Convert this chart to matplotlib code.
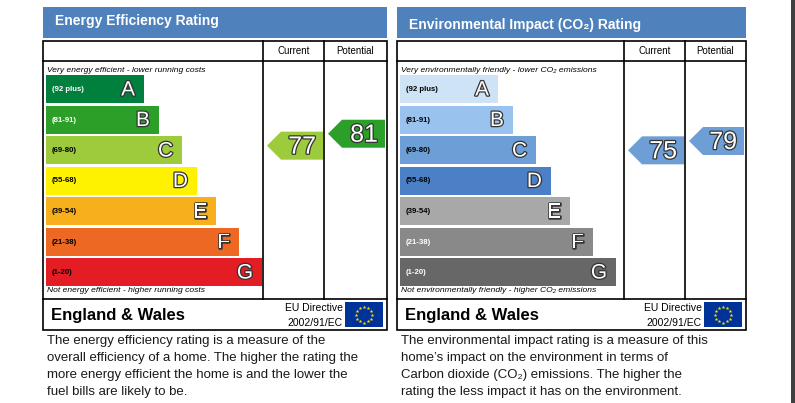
import numpy as np
import matplotlib.pyplot as plt
import matplotlib.patheffects as pe
from matplotlib.patches import Rectangle, Polygon

plt.rcParams['font.family'] = ['Liberation Sans', 'DejaVu Sans']

# band data
bands = ['A', 'B', 'C', 'D', 'E', 'F', 'G']
band_ranges = ['(92 plus)', '(81-91)', '(69-80)', '(55-68)', '(39-54)', '(21-38)', '(1-20)']
band_min = [92, 81, 69, 55, 39, 21, 1]
band_max = [100, 91, 80, 68, 54, 38, 20]

ee_colors = ['#007f3d', '#2c9f29', '#9dcb3c', '#fff200', '#f7af1d', '#ed6823', '#e31d23']
ee_label_colors = ['white', 'white', 'black', 'black', 'black', 'black', 'black']
ei_colors = ['#cfe3f6', '#99c3ee', '#6d9fd6', '#4c80c6', '#a8a8a8', '#898989', '#676767']
ei_label_colors = ['black', 'black', 'black', 'black', 'black', 'white', 'white']

ee_current, ee_potential = 77, 81
ei_current, ei_potential = 75, 79

# layout (pixels)
bar_widths = [98, 113, 136, 151, 170, 193, 216]
bar_top0, bar_step, bar_h = 75, 30.5, 28
header_blue = '#4f81bd'

fig = plt.figure(figsize=(7.95, 4.03), dpi=100)
ax = fig.add_axes([0, 0, 1, 1])
ax.set_xlim(0, 795)
ax.set_ylim(403, 0)
ax.axis('off')


def band_index(v):
    for i in range(len(bands)):
        if band_min[i] <= v <= band_max[i]:
            return i
    return len(bands) - 1


def arrow_y(v):
    i = band_index(v)
    top = bar_top0 + bar_step * i
    span = band_max[i] - band_min[i] + 1
    return top + bar_h * (band_max[i] + 0.5 - v) / span + 1.5


def draw_arrow(x0, x1, v, colors):
    cy = arrow_y(v)
    c = colors[band_index(v)]
    pts = [(x0, cy), (x0 + 14, cy - bar_h / 2), (x1, cy - bar_h / 2),
           (x1, cy + bar_h / 2), (x0 + 14, cy + bar_h / 2)]
    ax.add_patch(Polygon(pts, closed=True, facecolor=c, edgecolor='none'))
    ax.text(x1 - 7, cy + 1, str(v), ha='right', va='center', fontsize=18,
            color='white', path_effects=[pe.withStroke(linewidth=1.8, foreground='#333333')])


def eu_flag(x0, y0):
    ax.add_patch(Rectangle((x0, y0), 38, 25, facecolor='#003399', edgecolor='none'))
    ang = np.linspace(0, 2 * np.pi, 13)[:-1]
    ax.plot(x0 + 19 + 8 * np.cos(ang), y0 + 12.5 + 8 * np.sin(ang), ls='none',
            marker='*', markersize=2.8, color='#ffdd00', markeredgewidth=0)


def panel(x0, x1, col1, col2, title, title_y, top_note, bottom_note, colors,
          label_colors, current, potential, desc):
    # header
    ax.add_patch(Rectangle((x0, 7), x1 - x0, 31, facecolor=header_blue, edgecolor='none'))
    ax.text(x0 + 12, title_y, title, color='white', fontsize=10, fontweight='bold',
            ha='left', va='center')
    # frame
    lw = 1.2
    ax.add_patch(Rectangle((x0, 41), x1 - x0, 289, facecolor='none', edgecolor='black', lw=lw))
    ax.plot([x0, x1], [61, 61], color='black', lw=lw)
    ax.plot([x0, x1], [299, 299], color='black', lw=lw)
    for cx in (col1, col2):
        ax.plot([cx, cx], [41, 299], color='black', lw=lw)
    ax.text((col1 + col2) / 2, 51.5, 'Current', fontsize=7, ha='center', va='center')
    ax.text((col2 + x1) / 2, 51.5, 'Potential', fontsize=7, ha='center', va='center')

    ax.text(x0 + 4, 70, top_note, fontsize=6.1, style='italic', ha='left', va='center')
    ax.text(x0 + 4, 290, bottom_note, fontsize=6.1, style='italic', ha='left', va='center')

    bx = x0 + 3
    for i, b in enumerate(bands):
        top = bar_top0 + bar_step * i
        ax.add_patch(Rectangle((bx, top), bar_widths[i], bar_h, facecolor=colors[i],
                               edgecolor='none'))
        ax.text(bx + 6, top + bar_h / 2 + 0.5, band_ranges[i], fontsize=5.6, fontweight='bold',
                color=label_colors[i], ha='left', va='center')
        ax.text(bx + bar_widths[i] - 9, top + bar_h / 2 + 1, b, fontsize=15, color='white',
                ha='right', va='center',
                path_effects=[pe.withStroke(linewidth=1.8, foreground='#333333')])

    draw_arrow(col1 + 4, col2 - 1, current, colors)
    draw_arrow(col2 + 4, x1 - 2, potential, colors)

    # footer
    ax.text(x0 + 8, 315.5, 'England & Wales', fontsize=12, fontweight='bold',
            ha='left', va='center')
    ax.text(x1 - 44, 308, 'EU Directive', fontsize=7.5, ha='right', va='center')
    ax.text(x1 - 44, 323, '2002/91/EC', fontsize=7.5, ha='right', va='center')
    eu_flag(x1 - 42, 302)

    for k, line in enumerate(desc):
        ax.text(x0 + 4, 341 + 17 * k, line, fontsize=9.5, color='#1a1a1a',
                ha='left', va='center')


panel(43, 387, 263, 324, 'Energy Efficiency Rating', 21,
      'Very energy efficient - lower running costs',
      'Not energy efficient - higher running costs',
      ee_colors, ee_label_colors, ee_current, ee_potential,
      ['The energy efficiency rating is a measure of the',
       'overall efficiency of a home. The higher the rating the',
       'more energy efficient the home is and the lower the',
       'fuel bills are likely to be.'])

panel(397, 746, 624, 685, 'Environmental Impact (CO\u2082) Rating', 25.5,
      'Very environmentally friendly - lower CO\u2082 emissions',
      'Not environmentally friendly - higher CO\u2082 emissions',
      ei_colors, ei_label_colors, ei_current, ei_potential,
      ['The environmental impact rating is a measure of this',
       "home\u2019s impact on the environment in terms of",
       'Carbon dioxide (CO\u2082) emissions. The higher the',
       'rating the less impact it has on the environment.'])

# dark strip on the right edge
ax.add_patch(Rectangle((791, 0), 4, 403, facecolor='#3f4042', edgecolor='none'))

fig.savefig('out.png', dpi=100)
